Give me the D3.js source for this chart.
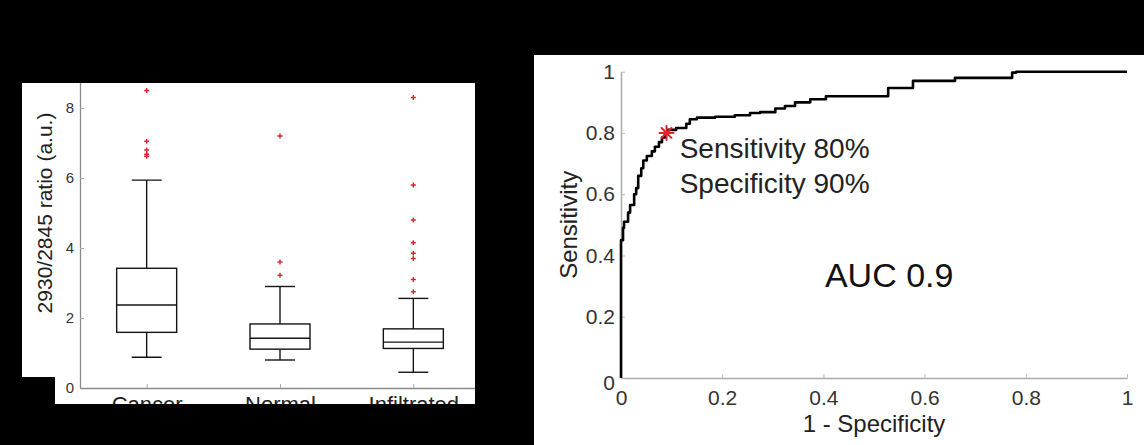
<!DOCTYPE html>
<html>
<head>
<meta charset="utf-8">
<script src="https://cdn.jsdelivr.net/npm/d3@7"></script>
<style>
  html, body { margin: 0; padding: 0; background: #000; }
  svg { display: block; }
  text { font-family: "Liberation Sans", Arial, Helvetica, sans-serif; }
</style>
</head>
<body>
<svg id="chart" width="1144" height="445"></svg>
<script>
// ---------- Data: box plot (left) ----------
const categories = ["Cancer", "Normal", "Infiltrated"];
const q1Values = [1.59, 1.11, 1.13];
const medianValues = [2.37, 1.42, 1.31];
const q3Values = [3.42, 1.83, 1.69];
const whiskerLow = [0.88, 0.80, 0.45];
const whiskerHigh = [5.94, 2.90, 2.56];
const outliersCancer = [8.5, 7.05, 6.8, 6.68, 6.62];
const outliersNormal = [7.2, 3.6, 3.22];
const outliersInfiltrated = [8.3, 5.8, 4.8, 4.15, 3.85, 3.7, 3.1, 2.75];
const boxTicks = [0, 2, 4, 6, 8, 10];
const boxYLabel = "2930/2845  ratio (a.u.)";

// ---------- Data: ROC curve (right) ----------
const rocFpr = [0, 0, 0.004, 0.006, 0.014, 0.018, 0.026, 0.030, 0.034, 0.040, 0.044, 0.051, 0.061, 0.067,
  0.075, 0.081, 0.087, 0.093, 0.109, 0.129, 0.136, 0.150, 0.186, 0.225, 0.255, 0.275, 0.305, 0.324,
  0.344, 0.374, 0.405, 0.427, 0.528, 0.534, 0.577, 0.585, 0.660, 0.666, 0.773, 0.781, 1.0];
const rocTpr = [0, 0.418, 0.45, 0.49, 0.51, 0.54, 0.565, 0.60, 0.62, 0.66, 0.685, 0.71, 0.725, 0.74,
  0.755, 0.77, 0.785, 0.80, 0.81, 0.816, 0.83, 0.845, 0.85, 0.853, 0.858, 0.865, 0.868, 0.88,
  0.888, 0.90, 0.91, 0.92, 0.92, 0.947, 0.947, 0.97, 0.97, 0.98, 0.98, 0.997, 1.0];
const cutoffPoint = [0.09, 0.80];
const rocTicks = [0, 0.2, 0.4, 0.6, 0.8, 1];
const rocTickLabels = ["0", "0.2", "0.4", "0.6", "0.8", "1"];
const annotationLines = ["Sensitivity 80%", "Specificity 90%"];
const aucLabel = "AUC 0.9";

const svg = d3.select("#chart");
svg.append("rect").attr("width", 1144).attr("height", 445).attr("fill", "#000");

const defs = svg.append("defs");

// ================= LEFT PANEL =================
const leftClip = defs.append("clipPath").attr("id", "leftClip");
leftClip.append("rect").attr("x", 22).attr("y", 83).attr("width", 453).attr("height", 294);
leftClip.append("rect").attr("x", 55).attr("y", 83).attr("width", 420).attr("height", 321);

const left = svg.append("g").attr("clip-path", "url(#leftClip)");
left.append("rect").attr("x", 0).attr("y", 0).attr("width", 1144).attr("height", 445).attr("fill", "#fff");

const xL = d3.scalePoint().domain(categories).range([80, 480]).padding(0.5);
const yL = d3.scaleLinear().domain([0, 10]).range([388, 38]);
const step = xL.step();
const boxW = step * 0.45;
const capW = boxW * 0.5;

// axes
const yAxisL = d3.axisLeft(yL).tickValues(boxTicks).tickFormat(d3.format("d"))
  .tickSizeInner(-4).tickSizeOuter(0).tickPadding(6);
const gyL = left.append("g").attr("transform", "translate(80,0)").call(yAxisL);
gyL.select(".domain").attr("stroke", "#8a8a8a").attr("stroke-width", 1.3);
gyL.selectAll(".tick line").attr("stroke", "#aaa");
gyL.selectAll(".tick text").attr("font-size", 15).attr("fill", "#333");

const xAxisL = d3.axisBottom(xL).tickSizeInner(-4).tickSizeOuter(0).tickPadding(8);
const gxL = left.append("g").attr("transform", "translate(0,388)").call(xAxisL);
gxL.select(".domain").attr("stroke", "#8a8a8a").attr("stroke-width", 1.3);
gxL.selectAll(".tick line").attr("stroke", "#aaa");
gxL.selectAll(".tick text").attr("font-size", 22).attr("fill", "#222");

left.append("text")
  .attr("transform", `translate(52,${(yL(0) + yL(10)) / 2}) rotate(-90)`)
  .attr("text-anchor", "middle").attr("font-size", 21).attr("fill", "#222")
  .text(boxYLabel);

const outlierSets = [outliersCancer, outliersNormal, outliersInfiltrated];
const boxColor = "#151515";
categories.forEach((c, i) => {
  const cx = xL(c);
  const g = left.append("g").attr("fill", "none").attr("stroke", boxColor).attr("stroke-width", 1.4);
  // whiskers
  g.append("line").attr("x1", cx).attr("x2", cx).attr("y1", yL(q3Values[i])).attr("y2", yL(whiskerHigh[i]));
  g.append("line").attr("x1", cx).attr("x2", cx).attr("y1", yL(q1Values[i])).attr("y2", yL(whiskerLow[i]));
  g.append("line").attr("x1", cx - capW / 2).attr("x2", cx + capW / 2).attr("y1", yL(whiskerHigh[i])).attr("y2", yL(whiskerHigh[i]));
  g.append("line").attr("x1", cx - capW / 2).attr("x2", cx + capW / 2).attr("y1", yL(whiskerLow[i])).attr("y2", yL(whiskerLow[i]));
  // box
  g.append("rect").attr("x", cx - boxW / 2).attr("width", boxW)
    .attr("y", yL(q3Values[i])).attr("height", yL(q1Values[i]) - yL(q3Values[i]));
  g.append("line").attr("x1", cx - boxW / 2).attr("x2", cx + boxW / 2)
    .attr("y1", yL(medianValues[i])).attr("y2", yL(medianValues[i]));
  // outliers
  const o = left.append("g").attr("stroke", "#d8242c").attr("stroke-width", 1.4);
  outlierSets[i].forEach(v => {
    const yy = yL(v);
    o.append("line").attr("x1", cx - 2.5).attr("x2", cx + 2.5).attr("y1", yy).attr("y2", yy);
    o.append("line").attr("x1", cx).attr("x2", cx).attr("y1", yy - 2.5).attr("y2", yy + 2.5);
  });
});

// ================= RIGHT PANEL =================
svg.append("rect").attr("x", 534).attr("y", 55).attr("width", 610).attr("height", 390).attr("fill", "#fff");
const right = svg.append("g");
const xR = d3.scaleLinear().domain([0, 1]).range([621, 1127]);
const yR = d3.scaleLinear().domain([0, 1]).range([378, 71.7]);

const xAxisR = d3.axisBottom(xR).tickValues(rocTicks).tickFormat((d, i) => rocTickLabels[i])
  .tickSizeInner(-4).tickSizeOuter(0).tickPadding(12);
const gxR = right.append("g").attr("transform", `translate(0,${yR(0)})`).call(xAxisR);
gxR.select(".domain").attr("stroke", "#aaa").attr("stroke-width", 1.5);
gxR.selectAll(".tick line").attr("stroke", "#bbb");
gxR.selectAll(".tick text").attr("font-size", 21).attr("fill", "#333");

const yAxisR = d3.axisLeft(yR).tickValues(rocTicks).tickFormat((d, i) => rocTickLabels[i])
  .tickSizeInner(-4).tickSizeOuter(0).tickPadding(6);
const gyR = right.append("g").attr("transform", `translate(${xR(0)},0)`).call(yAxisR);
gyR.select(".domain").attr("stroke", "#aaa").attr("stroke-width", 1.5);
gyR.selectAll(".tick line").attr("stroke", "#bbb");
gyR.selectAll(".tick text").attr("font-size", 21).attr("fill", "#333");
gyR.selectAll(".tick text").filter(d => d === 0).attr("dy", "0.55em");

// axis labels
right.append("text").attr("x", (xR(0) + xR(1)) / 2).attr("y", 432)
  .attr("text-anchor", "middle").attr("font-size", 24).attr("fill", "#222").text("1 - Specificity");
right.append("text")
  .attr("transform", `translate(577,${(yR(0) + yR(1)) / 2}) rotate(-90)`)
  .attr("text-anchor", "middle").attr("font-size", 24).attr("fill", "#222").text("Sensitivity");

// ROC curve (stepwise, as an empirical ROC)
const rocData = rocFpr.map((f, i) => [f, rocTpr[i]]);
const line = d3.line().x(d => xR(d[0])).y(d => yR(d[1])).curve(d3.curveStepBefore);
right.append("path").datum(rocData).attr("d", line)
  .attr("fill", "none").attr("stroke", "#000").attr("stroke-width", 2.6).attr("stroke-linejoin", "round");

// cutoff star marker
const sx = xR(cutoffPoint[0]), sy = yR(cutoffPoint[1]);
const star = right.append("g").attr("stroke", "#e3202b").attr("stroke-width", 2).attr("stroke-linecap", "round");
const r = 7;
[0, 45, 90, 135].forEach(a => {
  const rad = a * Math.PI / 180;
  star.append("line")
    .attr("x1", sx - r * Math.cos(rad)).attr("y1", sy - r * Math.sin(rad))
    .attr("x2", sx + r * Math.cos(rad)).attr("y2", sy + r * Math.sin(rad));
});

// annotations
annotationLines.forEach((t, i) => {
  right.append("text").attr("x", xR(0.116)).attr("y", 158 + i * 35)
    .attr("font-size", 28).attr("fill", "#222").text(t);
});
right.append("text").attr("x", xR(0.403)).attr("y", 287)
  .attr("font-size", 34).attr("fill", "#111").text(aucLabel);
</script>
</body>
</html>
